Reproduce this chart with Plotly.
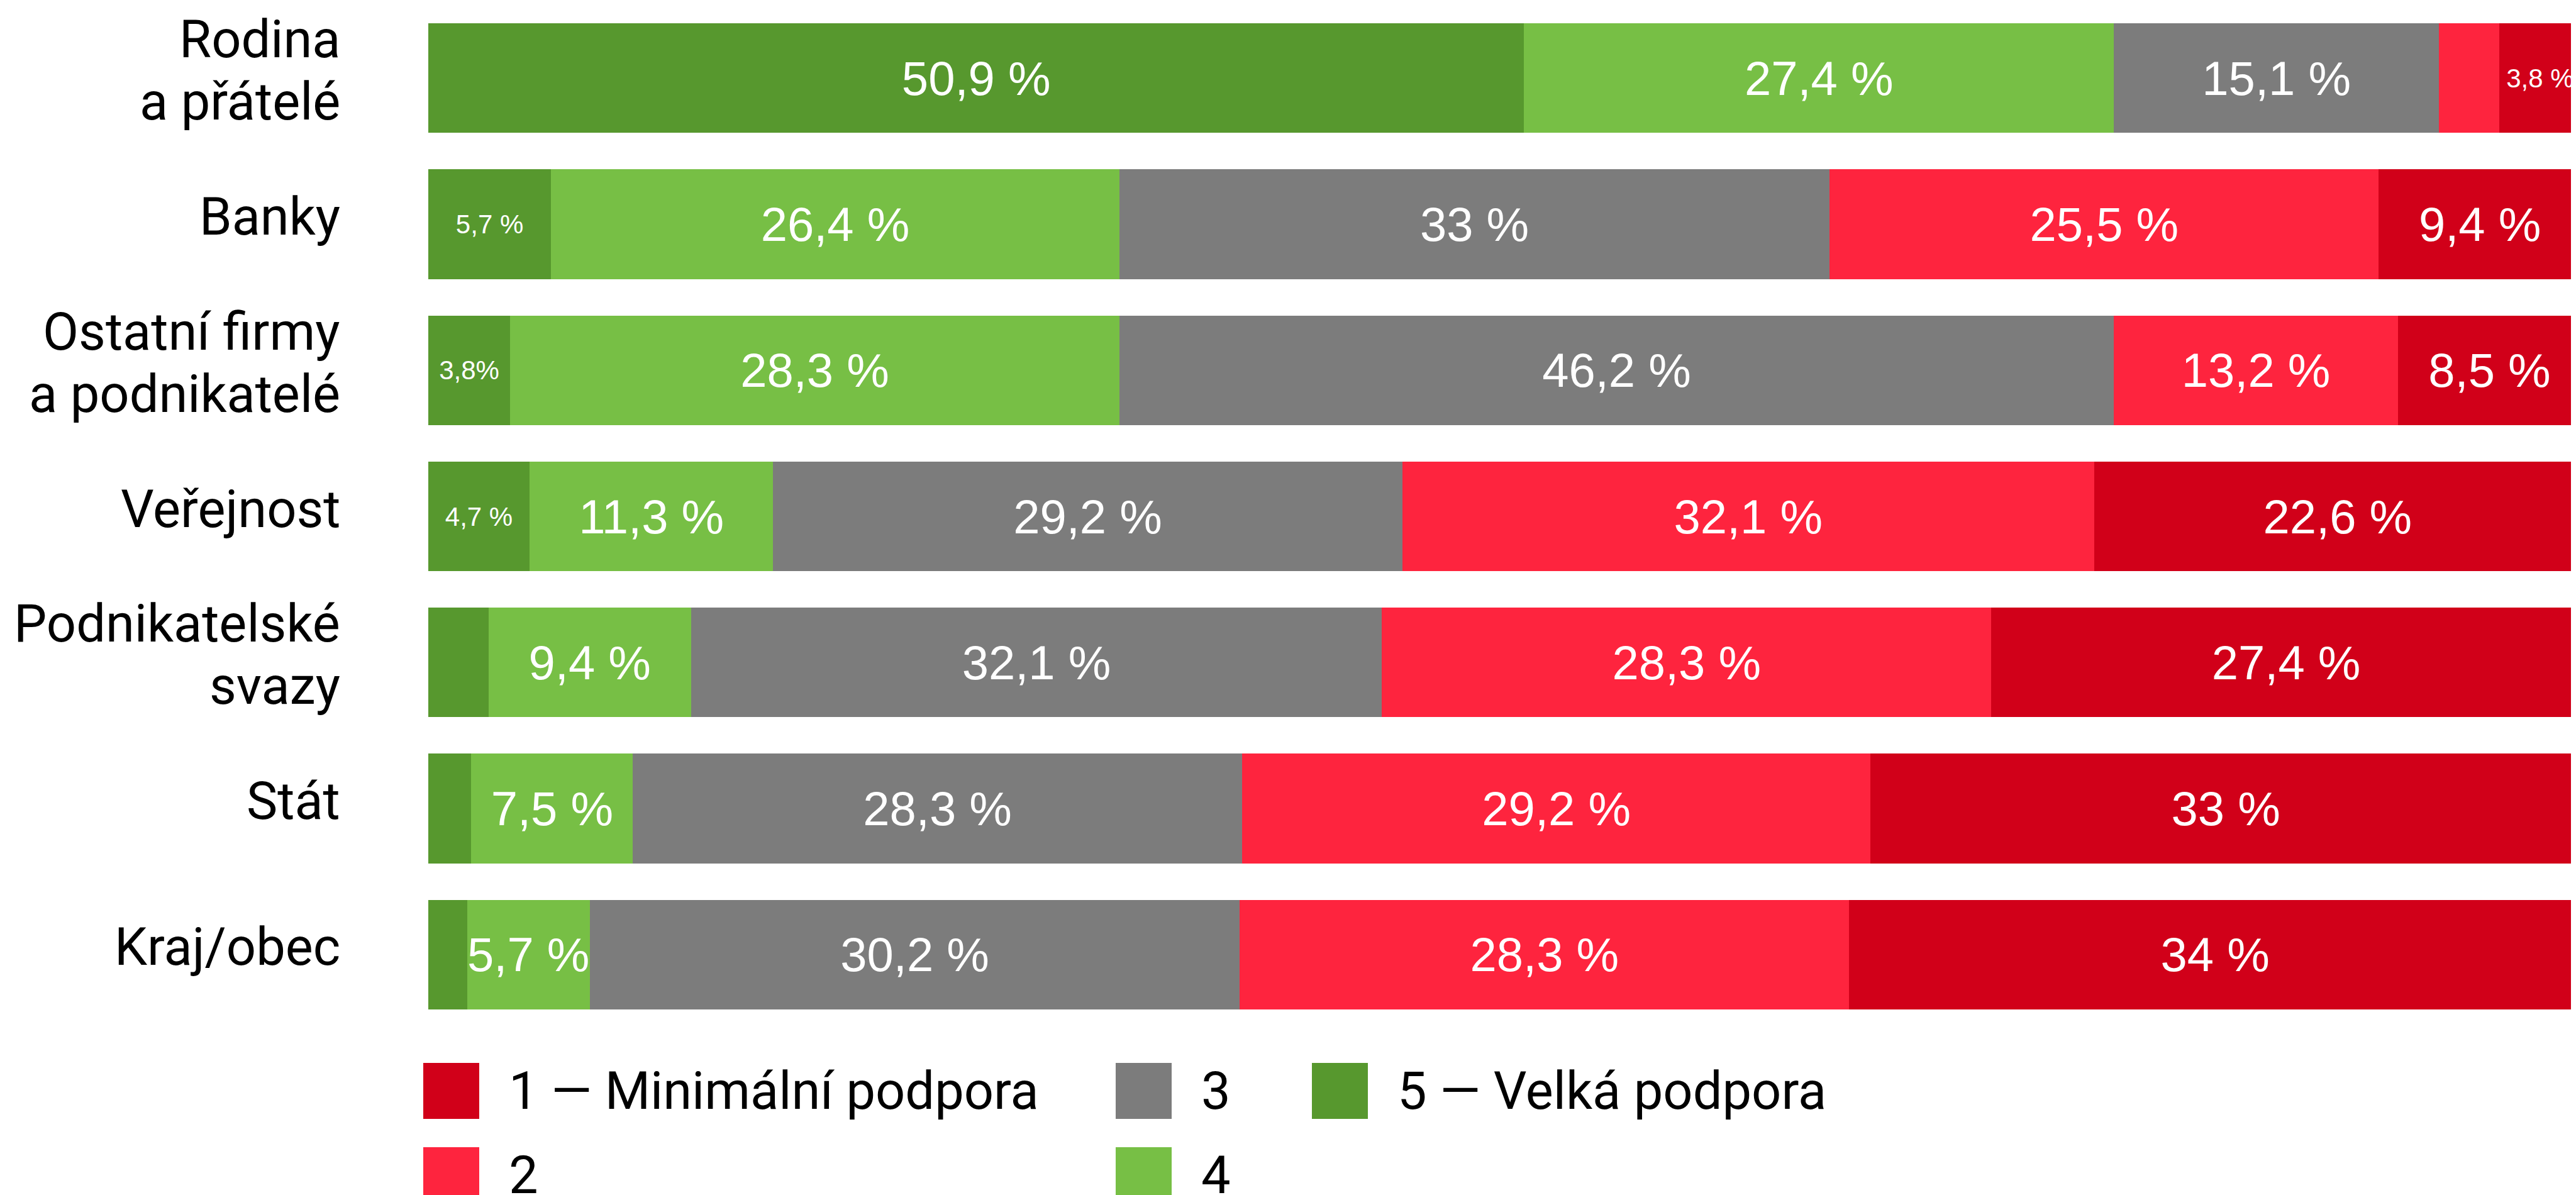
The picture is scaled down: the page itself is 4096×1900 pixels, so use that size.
import plotly.graph_objects as go

# ---------------- data ----------------
categories = ["Rodina a přátelé", "Banky", "Ostatní firmy a podnikatelé", "Veřejnost",
              "Podnikatelské svazy", "Stát", "Kraj/obec"]
category_lines = [["Rodina", "a přátelé"], ["Banky"], ["Ostatní firmy", "a podnikatelé"],
                  ["Veřejnost"], ["Podnikatelské", "svazy"], ["Stát"], ["Kraj/obec"]]

series_names = ["5 — Velká podpora", "4", "3", "2", "1 — Minimální podpora"]
s5 = [50.9, 5.7, 3.8, 4.7, 2.8, 2.0, 1.8]
s4 = [27.4, 26.4, 28.3, 11.3, 9.4, 7.5, 5.7]
s3 = [15.1, 33.0, 46.2, 29.2, 32.1, 28.3, 30.2]
s2 = [2.8, 25.5, 13.2, 32.1, 28.3, 29.2, 28.3]
s1 = [3.8, 9.4, 8.5, 22.6, 27.4, 33.0, 34.0]
series_values = [s5, s4, s3, s2, s1]
series_colors = ["#57982E", "#77BF45", "#7C7C7C", "#FE243E", "#D10019"]

# label display tweaks: (series index, category index)
hidden_labels = {(3, 0), (0, 4), (0, 5), (0, 6)}
small_labels = {(4, 0), (0, 1), (0, 2), (0, 3)}
nospace_labels = {(0, 2)}

# legend layout: (series index) per column, top to bottom
legend_columns = [[4, 3], [2, 1], [0]]

# ---------------- geometry (output px) ----------------
W, H = 4096, 1900
L, R, T, B = 673, 0, 0, 274
PW, PH = W - L - R, H - T - B

BIG, SMALL = 76, 42
CAT_FONT = 83


def fmt(v, nospace=False):
    s = f"{v:.1f}".replace(".", ",")
    if s.endswith(",0"):
        s = s[:-2]
    return s + ("%" if nospace else " %")


def px_x(p):
    return (p - L) / PW


def px_y(p):
    return (T + PH - p) / PH


fig = go.Figure()
for si, (name, vals, col) in enumerate(zip(series_names, series_values, series_colors)):
    texts, sizes = [], []
    for ci, v in enumerate(vals):
        if (si, ci) in hidden_labels:
            texts.append("")
        else:
            texts.append(fmt(v, (si, ci) in nospace_labels))
        sizes.append(SMALL if (si, ci) in small_labels else BIG)
    fig.add_trace(go.Bar(
        y=categories, x=vals, orientation="h", name=name,
        marker=dict(color=col, line=dict(width=0)),
        text=texts, textposition="inside", insidetextanchor="middle",
        constraintext="none",
        textfont=dict(family="Liberation Sans, Arial, sans-serif", size=sizes, color="white"),
        showlegend=False, hoverinfo="skip",
    ))

annotations = []
# category labels
label_right = 535
line_gap = 99
for cat, lines in zip(categories, category_lines):
    n = len(lines)
    for li, line in enumerate(lines):
        off = ((n - 1) / 2 - li) * line_gap
        annotations.append(dict(
            x=px_x(label_right), xref="paper", y=cat, yref="y",
            text=line, showarrow=False, xanchor="right", yanchor="middle",
            yshift=off + 12,
            font=dict(family="Roboto, sans-serif", size=CAT_FONT, color="black"),
        ))

# manual legend
shapes = []
col_lefts = [665, 1766, 2078]
row_tops = [1682, 1816]
sq = 89
for ci, col_items in enumerate(legend_columns):
    for ri, si in enumerate(col_items):
        x0 = col_lefts[ci]
        y0 = row_tops[ri]
        shapes.append(dict(type="rect", xref="paper", yref="paper",
                           x0=px_x(x0), x1=px_x(x0 + sq), y0=px_y(y0 + sq), y1=px_y(y0),
                           fillcolor=series_colors[si], line=dict(width=0), layer="above"))
        annotations.append(dict(
            x=px_x(x0 + sq + 45), xref="paper", y=px_y(y0 + sq / 2), yref="paper",
            text=series_names[si], showarrow=False, xanchor="left", yanchor="middle",
            font=dict(family="Roboto, sans-serif", size=CAT_FONT, color="black"),
        ))

fig.update_layout(
    width=W, height=H,
    margin=dict(l=L, r=R, t=T, b=B, pad=0),
    barmode="stack", barnorm="percent", bargap=0.25,
    plot_bgcolor="white", paper_bgcolor="white",
    xaxis=dict(range=[0, 100], visible=False, showgrid=False, zeroline=False, fixedrange=True),
    yaxis=dict(type="category", categoryorder="array", categoryarray=categories,
               range=[6.5, -0.5], visible=False, showgrid=False, fixedrange=True),
    annotations=annotations,
    shapes=shapes,
    showlegend=False,
)

fig.write_html("out.html")
